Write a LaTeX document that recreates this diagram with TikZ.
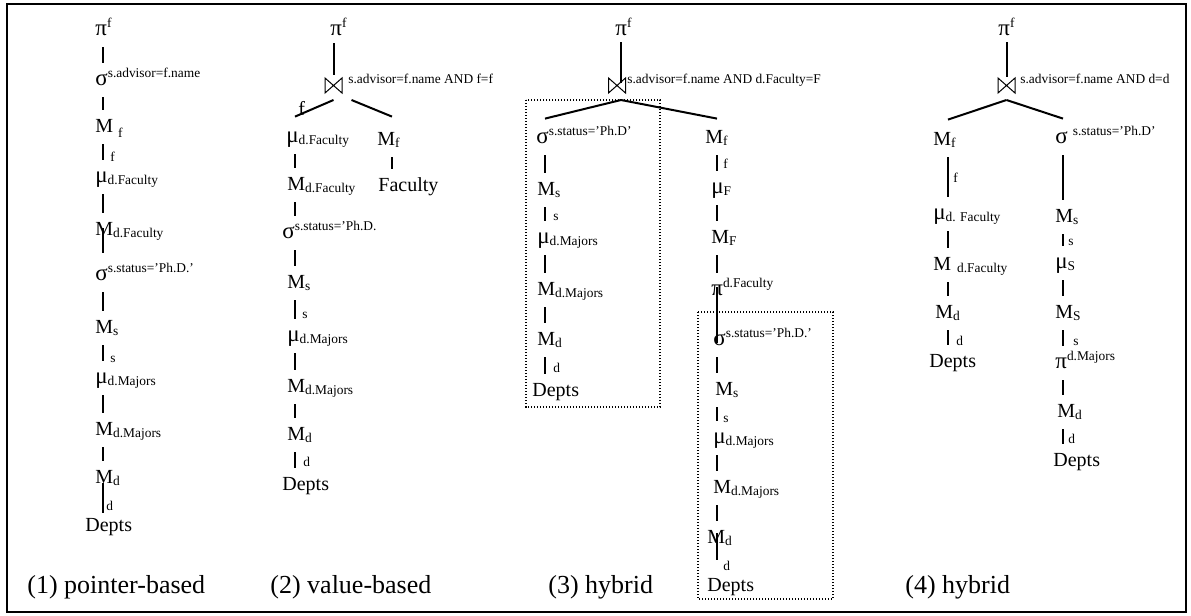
\documentclass[tikz,border=0pt]{standalone}
\usepackage{fontspec}
\setmainfont{Liberation Serif}
\usepackage{tikz}

\newcommand{\hsup}[1]{\raisebox{4pt}{\fontsize{6.7}{8}\selectfont #1}}
\newcommand{\lsub}[1]{\raisebox{-1pt}{\fontsize{6.7}{8}\selectfont #1}}
\newcommand{\gk}[1]{{\fontsize{11.5}{12}\selectfont #1}}

\begin{document}
\begin{tikzpicture}[x=0.5pt,y=-0.5pt,
				op/.style={anchor=base west,inner sep=0pt,text height=7pt,text depth=2pt,
					font=\fontsize{10}{12}\selectfont},
				tag/.style={anchor=base west,inner sep=0pt,font=\fontsize{6.7}{8}\selectfont},
				ttl/.style={anchor=base west,inner sep=0pt,font=\fontsize{13}{15}\selectfont},
				jn/.style={inner sep=0pt,outer sep=0pt,minimum width=8.5pt,minimum height=7.5pt},
				tie/.style={line width=0.5pt},
				link/.style={line width=1pt,shorten <=4pt,shorten >=4pt},
				arm/.style={line width=1pt},
				box/.style={line width=0.6pt,dash pattern=on 0.7pt off 0.8pt},
				border/.style={line width=1pt}]

				\useasboundingbox (0,0) rectangle (1191,616);
				\draw[border] (7,4) rectangle (1186,612);

				%%%%%%%%%%%%%%%%  panel (1)  %%%%%%%%%%%%%%%%
				\begin{scope}
					\coordinate (c1) at (103,0);
					\node[op] (p1) at (95,35) {\gk{π}\hsup{f}};
					\node[op] (s1) at (95,85) {\gk{σ}\hsup{s.advisor=f.name}};
					\node[op] (m1) at (95,132) {M\hspace{2.5pt}\raisebox{-1.5pt}{\lsub{f}}};
					\node[op] (u1) at (95,182) {\gk{μ}\lsub{d.Faculty}};
					\node[op] (m2) at (95,235) {M\lsub{d.Faculty}};
					\node[op] (s2) at (95,280) {\gk{σ}\hsup{s.status='Ph.D.'}};
					\node[op] (m3) at (95,333) {M\lsub{s}};
					\node[op] (u2) at (95,383) {\gk{μ}\lsub{d.Majors}};
					\node[op] (m4) at (95,435) {M\lsub{d.Majors}};
					\node[op] (m5) at (95,483) {M\lsub{d}};
					\node[op] (t1) at (85,531) {Depts};
					\foreach \a/\b in {p1/s1,s1/m1,m1/u1,u1/m2,s2/m3,m3/u2,u2/m4,m4/m5}
						\draw[link] (\a.south -| c1) -- (\b.north -| c1);
					\draw[link,shorten <=-5.5pt,shorten >=6.5pt] (m2.south -| c1) -- (s2.north -| c1);
					\draw[link,shorten <=-2pt,shorten >=2pt] (m5.south -| c1) -- (t1.north -| c1);
					% pointer tags on the links
					\node[tag] (e1) at (110,161) {f};
					\node[tag] (e2) at (110,362) {s};
					\node[tag] (e3) at (106,510) {d};
					\node[ttl] (n1) at (27,593) {(1) pointer-based};
				\end{scope}

				%%%%%%%%%%%%%%%%  panel (2)  %%%%%%%%%%%%%%%%
				\begin{scope}
					\coordinate (c2) at (295,0);
					\coordinate (c2b) at (392,0);
					\node[op] (p2) at (330,35) {\gk{π}\hsup{f}};
					\node[jn] (j2) at (333.5,85.5) {};
					\draw[tie] (j2.north west) -- (j2.south east) -- (j2.north east)
						-- (j2.south west) -- cycle;
					\node[tag] (q2) at (348,83) {s.advisor=f.name AND f=f};
					\draw[link,shorten <=2pt,shorten >=1.5pt] (p2.south -| j2) -- (j2.north);
					\node[op] (u3) at (286,142) {\gk{μ}\lsub{d.Faculty}};
					\node[op] (m6) at (377,145) {M\lsub{f}};
					\node[op] (m7) at (287,190) {M\lsub{d.Faculty}};
					\node[op] (t2) at (378,191) {Faculty};
					\node[op] (s3) at (282,238) {\gk{σ}\hsup{s.status='Ph.D.}};
					\node[op] (m8) at (287,288) {M\lsub{s}};
					\node[op] (u4) at (287,341) {\gk{μ}\lsub{d.Majors}};
					\node[op] (m9) at (287,392) {M\lsub{d.Majors}};
					\node[op] (m10) at (287,440) {M\lsub{d}};
					\node[op] (t3) at (282,490) {Depts};
					% the arms of the join
					\draw[arm] ([yshift=-3.5pt]j2.south) -- ([yshift=5.5pt]u3.north -| c2);
					\draw[arm] ([xshift=9pt,yshift=-3.5pt]j2.south) -- ([yshift=7pt]m6.north -| c2b);
					\node[op] (f2) at (298,115) {f};
					\foreach \a/\b in {u3/m7,m7/s3,s3/m8,m8/u4,u4/m9,m9/m10,m10/t3}
						\draw[link] (\a.south -| c2) -- (\b.north -| c2);
					\draw[link] (m6.south -| c2b) -- (t2.north -| c2b);
					\node[tag] (e4) at (302,318) {s};
					\node[tag] (e5) at (303,466) {d};
					\node[ttl] (n2) at (270,593) {(2) value-based};
				\end{scope}

				%%%%%%%%%%%%%%%%  panel (3)  %%%%%%%%%%%%%%%%
				\begin{scope}
					\coordinate (c3) at (621,0);
					\coordinate (c3a) at (545,0);
					\coordinate (c3b) at (717,0);
					\node[op] (p3) at (615,35) {\gk{π}\hsup{f}};
					\node[jn] (j3) at (617,85.5) {};
					\draw[tie] (j3.north west) -- (j3.south east) -- (j3.north east)
						-- (j3.south west) -- cycle;
					\node[tag] (q3) at (627,83) {s.advisor=f.name AND d.Faculty=F};
					\draw[link,shorten <=1.5pt,shorten >=-2.5pt] (p3.south -| c3) -- (j3.north -| c3);
					% left input, pointer-based
					\node[op] (s4) at (536,143) {\gk{σ}\hsup{s.status='Ph.D'}};
					\node[op] (m11) at (537,195) {M\lsub{s}};
					\node[op] (u5) at (537,243) {\gk{μ}\lsub{d.Majors}};
					\node[op] (m12) at (537,295) {M\lsub{d.Majors}};
					\node[op] (m13) at (537,345) {M\lsub{d}};
					\node[op] (t4) at (532,396) {Depts};
					\foreach \a/\b in {s4/m11,m11/u5,u5/m12,m12/m13,m13/t4}
						\draw[link] (\a.south -| c3a) -- (\b.north -| c3a);
					\node[tag] (e6) at (553,220) {s};
					\node[tag] (e7) at (553,372) {d};
					% right input
					\node[op] (m14) at (705,143) {M\lsub{f}};
					\node[op] (u6) at (711,193) {\gk{μ}\lsub{F}};
					\node[op] (m15) at (711,243) {M\lsub{F}};
					\node[op] (p4) at (711,295) {\gk{π}\hsup{d.Faculty}};
					\node[op] (s5) at (713,345) {\gk{σ}\hsup{s.status='Ph.D.'}};
					\node[op] (m16) at (715,395) {M\lsub{s}};
					\node[op] (u7) at (713,443) {\gk{μ}\lsub{d.Majors}};
					\node[op] (m17) at (713,493) {M\lsub{d.Majors}};
					\node[op] (m18) at (707,543) {M\lsub{d}};
					\node[op] (t5) at (707,591) {Depts};
					\foreach \a/\b in {m14/u6,u6/m15,m15/p4,s5/m16,m16/u7,u7/m17,m17/m18}
						\draw[link] (\a.south -| c3b) -- (\b.north -| c3b);
					\draw[link,shorten <=-6pt,shorten >=-6pt] (p4.south -| c3b) -- (s5.north -| c3b);
					\draw[link,shorten <=-7pt,shorten >=8.5pt] (m18.south -| c3b) -- (t5.north -| c3b);
					\node[tag] (e8) at (723,168) {f};
					\node[tag] (e9) at (723,422) {s};
					\node[tag] (e10) at (723,570) {d};
					% the arms of the join
					\draw[arm] ([yshift=-3.5pt]j3.south -| c3) -- ([yshift=5pt]s4.north -| c3a);
					\draw[arm] ([yshift=-3.5pt]j3.south -| c3) -- ([yshift=5pt]m14.north -| c3b);
					% the pointer-based parts
					\draw[box] (526,100) rectangle (660,407);
					\draw[box] (698,312) rectangle (833,599);
					\node[ttl] (n3) at (548,593) {(3) hybrid};
				\end{scope}

				%%%%%%%%%%%%%%%%  panel (4)  %%%%%%%%%%%%%%%%
				\begin{scope}
					\coordinate (c4a) at (948,0);
					\coordinate (c4b) at (1063,0);
					\node[op] (p5) at (998,35) {\gk{π}\hsup{f}};
					\node[jn] (j4) at (1006.5,85.5) {};
					\draw[tie] (j4.north west) -- (j4.south east) -- (j4.north east)
						-- (j4.south west) -- cycle;
					\node[tag] (q4) at (1020,83) {s.advisor=f.name AND d=d};
					\draw[link,shorten <=1.5pt,shorten >=0.5pt] (p5.south -| j4) -- (j4.north);
					\node[op] (m19) at (933,145) {M\lsub{f}};
					\node[op] (u8) at (933,219) {\gk{μ}\lsub{d. Faculty}};
					\node[op] (m21) at (933,270) {M\hspace{3pt}\lsub{d.Faculty}};
					\node[op] (m22) at (935,318) {M\lsub{d}};
					\node[op] (t6) at (929,367) {Depts};
					\node[op] (s6) at (1055,143) {\gk{σ}\hspace{2.5pt}\hsup{s.status='Ph.D'}};
					\node[op] (m20) at (1055,222) {M\lsub{s}};
					\node[op] (u9) at (1055,268) {\gk{μ}\lsub{S}};
					\node[op] (m23) at (1055,318) {M\lsub{S}};
					\node[op] (p6) at (1055,368) {\gk{π}\hsup{d.Majors}};
					\node[op] (m24) at (1057,417) {M\lsub{d}};
					\node[op] (t7) at (1053,466) {Depts};
					% the arms of the join
					\draw[arm] ([yshift=-3.5pt]j4.south) -- ([yshift=5.5pt]m19.north -| c4a);
					\draw[arm] ([yshift=-3.5pt]j4.south) -- ([yshift=5pt]s6.north -| c4b);
					\foreach \a/\b in {m19/u8,u8/m21,m21/m22,m22/t6}
						\draw[link] (\a.south -| c4a) -- (\b.north -| c4a);
					\foreach \a/\b in {s6/m20,m20/u9,u9/m23,m23/p6,p6/m24,m24/t7}
						\draw[link] (\a.south -| c4b) -- (\b.north -| c4b);
					\node[tag] (e11) at (953,182) {f};
					\node[tag] (e12) at (1068,245) {s};
					\node[tag] (e13) at (956,345) {d};
					\node[tag] (e14) at (1073,345) {s};
					\node[tag] (e15) at (1068,443) {d};
					\node[ttl] (n4) at (905,593) {(4) hybrid};
				\end{scope}
\end{tikzpicture}
\end{document}
